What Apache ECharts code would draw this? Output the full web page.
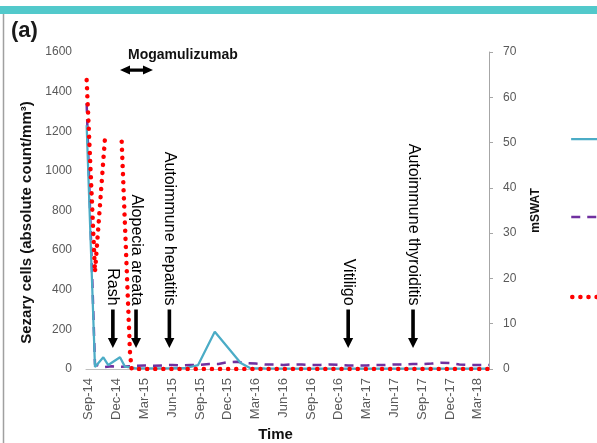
<!DOCTYPE html>
<html>
<head>
<meta charset="utf-8">
<script src="https://cdn.jsdelivr.net/npm/echarts@6/dist/echarts.min.js"></script>
<style>
html,body{margin:0;padding:0;background:#fff;}
#chart{width:597px;height:443px;}
</style>
</head>
<body>
<div id="chart"></div>
<script>
// x values are months counted from Sep-14 (0 = Sep-14)
const tickMonths = [0, 3, 6, 9, 12, 15, 18, 21, 24, 27, 30, 33, 36, 39, 42];
const tickLabels = ['Sep-14','Dec-14','Mar-15','Jun-15','Sep-15','Dec-15','Mar-16','Jun-16','Sep-16','Dec-16','Mar-17','Jun-17','Sep-17','Dec-17','Mar-18'];

const seriesNames = ['Sezary cells', 'Series 2', 'mSWAT'];

// Sezary cells (left axis)
const sezaryCells = [[-0.23,1230],[0.67,10],[1.57,59],[2.1,20],[3.37,59],[3.9,12],[5,4],[7,3],[9,4],[10.5,5],[11.8,20],[13.6,188],[16.4,30],[17.4,5],[19,3],[22,2],[25,2],[28,2],[31,2],[34,2],[37,2],[40,2],[43.2,2]];

// dashed series (right axis units)
const dashedSeries = [[-0.23,58.7],[0.67,1],[1.5,0.4],[2.5,0.6],[3.5,0.5],[5,0.7],[6,0.8],[7,0.7],[8,0.8],[9,0.9],[10,0.8],[11,0.9],[12,0.9],[13,1.1],[14,1.1],[15,1.5],[16,1.6],[17,1.3],[18,1.2],[19,1.0],[20,1.0],[21,0.9],[22,1.0],[23,1.0],[24,0.9],[25,0.9],[26,1.0],[27,0.9],[28,0.8],[29,0.8],[30,0.8],[31,0.9],[32,0.9],[33,1.0],[34,1.0],[35,1.1],[36,1.1],[37,1.2],[38,1.4],[39,1.3],[40,1.0],[41,0.9],[42,0.9],[43.2,0.9]];

// mSWAT (right axis), '-' marks a gap
const mswat = [[-0.23,63.8],[0.67,21.4],[1.75,51.0],[2.6,'-'],[3.55,50.2],[4.45,3.5],[4.63,0],[10,0],[20,0],[30,0],[43.2,0]];

// clinical events
const eventLabels = ['Rash','Alopecia areata','Autoimmune hepatitis','Vitiligo','Autoimmune thyroiditis'];
const eventMonths = [2.6, 5.1, 8.7, 28.0, 35.0];
const arrowFrom = 300;  // left-axis units
const arrowTo = 106;

const treatmentLabel = 'Mogamulizumab';
const treatmentStart = 3.37;
const treatmentEnd = 6.93;
const treatmentLevel = 1509;

const chart = echarts.init(document.getElementById('chart'), null, {renderer: 'canvas'});
const FONT = 'Liberation Sans, Arial, sans-serif';

function legendFor(name, top, ls) {
  return {
    left: 565, top: top, orient: 'vertical',
    itemWidth: 40, itemHeight: 14,
    data: [{name: name, lineStyle: ls}],
    formatter: () => '',
    selectedMode: false,
    itemStyle: {opacity: 0}
  };
}

const tealStyle = {color: '#4bacc6', width: 2.25};
const purpleStyle = {color: '#7030a0', width: 2.5, type: [9, 7]};
const redStyle = {color: '#ff0000', width: 4.5, type: [0.1, 8], cap: 'round'};

chart.setOption({
  animation: false,
  backgroundColor: '#ffffff',
  grid: {left: 86, right: 108, top: 52, bottom: 74, containLabel: false, outerBoundsMode: 'none'},
  legend: [legendFor(seriesNames[0], 127, tealStyle), legendFor(seriesNames[1], 205, purpleStyle), legendFor(seriesNames[2], 285, redStyle)],
  xAxis: {
    type: 'value', min: -0.3, max: 43.2,
    name: 'Time', nameLocation: 'middle', nameGap: 56,
    nameTextStyle: {fontFamily: FONT, fontWeight: 'bold', fontSize: 15, color: '#111', padding: [0, 24, 0, 0]},
    axisLine: {show: true, lineStyle: {color: '#bfbfbf', width: 1}},
    axisTick: {show: false},
    splitLine: {show: false},
    axisLabel: {
      customValues: tickMonths,
      rotate: 90, margin: 9,
      fontFamily: FONT, fontSize: 13, color: '#595959',
      formatter: v => tickLabels[tickMonths.indexOf(Math.round(v))] || ''
    }
  },
  yAxis: [{
    type: 'value', min: 0, max: 1600, interval: 200,
    name: 'Sezary cells (absolute count/mm³)', nameLocation: 'middle', nameGap: 52, nameRotate: 90,
    nameTextStyle: {fontFamily: FONT, fontWeight: 'bold', fontSize: 15, color: '#111', padding: [0, 24, 0, 0]},
    axisLine: {show: false}, axisTick: {show: false}, splitLine: {show: false},
    axisLabel: {margin: 14, fontFamily: FONT, fontSize: 12, color: '#595959', formatter: v => String(v)}
  }, {
    type: 'value', min: 0, max: 70, interval: 10, position: 'right',
    name: 'mSWAT', nameLocation: 'middle', nameGap: 41, nameRotate: 90,
    nameTextStyle: {fontFamily: FONT, fontWeight: 'bold', fontSize: 12, color: '#111'},
    axisLine: {show: true, lineStyle: {color: '#a6a6a6', width: 1}},
    axisTick: {show: true, inside: false, length: 4, lineStyle: {color: '#a6a6a6'}},
    splitLine: {show: false},
    axisLabel: {margin: 14, fontFamily: FONT, fontSize: 12, color: '#595959', formatter: v => String(v)}
  }],
  series: [{
    name: seriesNames[1], type: 'line', yAxisIndex: 1, data: dashedSeries,
    symbol: 'none', showSymbol: false, z: 2,
    lineStyle: purpleStyle, itemStyle: {color: '#7030a0'}
  }, {
    name: seriesNames[0], type: 'line', yAxisIndex: 0, data: sezaryCells,
    symbol: 'none', showSymbol: false, z: 3,
    lineStyle: tealStyle, itemStyle: {color: '#4bacc6'}
  }, {
    name: seriesNames[2], type: 'line', yAxisIndex: 1, data: mswat,
    symbol: 'none', showSymbol: false, connectNulls: false, z: 4,
    lineStyle: redStyle, itemStyle: {color: '#ff0000'}
  }]
});

function px(m, v) { return chart.convertToPixel({xAxisIndex: 0, yAxisIndex: 0}, [m, v]); }

function downArrow(x, y1, y2) {
  const sw = 1.8, hw = 5, hh = 10;
  return {
    type: 'polygon', silent: true, z: 20,
    shape: {points: [[x - sw, y1], [x + sw, y1], [x + sw, y2 - hh], [x + hw, y2 - hh], [x, y2], [x - hw, y2 - hh], [x - sw, y2 - hh]]},
    style: {fill: '#000'}
  };
}

const g = [];
// top band and frame
g.push({type: 'rect', silent: true, shape: {x: 0, y: 6, width: 597, height: 8}, style: {fill: '#52c9cb'}});
g.push({type: 'line', silent: true, shape: {x1: 3.5, y1: 14, x2: 3.5, y2: 443}, style: {stroke: '#a0a0a0', lineWidth: 1.5}});
g.push({type: 'text', silent: true, x: 11, y: 31, style: {text: '(a)', font: 'bold 22px ' + FONT, fill: '#1a1a1a', textVerticalAlign: 'middle'}});

eventLabels.forEach((lab, i) => {
  const a = px(eventMonths[i], arrowFrom);
  const b = px(eventMonths[i], arrowTo);
  g.push(downArrow(a[0], a[1], b[1]));
  g.push({
    type: 'text', silent: true, z: 20,
    x: a[0], y: a[1] - 4, rotation: -Math.PI / 2,
    style: {text: lab, font: '16px ' + FONT, fill: '#000', align: 'right', verticalAlign: 'middle'}
  });
});

// treatment double arrow
const t1 = px(treatmentStart, treatmentLevel);
const t2 = px(treatmentEnd, treatmentLevel);
const yy = t1[1], hl = 10, hv = 4.5, sv = 1.6;
g.push({
  type: 'polygon', silent: true, z: 20,
  shape: {points: [[t1[0], yy], [t1[0] + hl, yy - hv], [t1[0] + hl, yy - sv], [t2[0] - hl, yy - sv], [t2[0] - hl, yy - hv], [t2[0], yy], [t2[0] - hl, yy + hv], [t2[0] - hl, yy + sv], [t1[0] + hl, yy + sv], [t1[0] + hl, yy + hv]]},
  style: {fill: '#000'}
});
const tl = px(treatmentStart + 0.87, treatmentLevel);
g.push({type: 'text', silent: true, z: 20, x: tl[0], y: yy - 15, style: {text: treatmentLabel, font: 'bold 14px ' + FONT, fill: '#111', verticalAlign: 'middle'}});

chart.setOption({graphic: g});
</script>
</body>
</html>
